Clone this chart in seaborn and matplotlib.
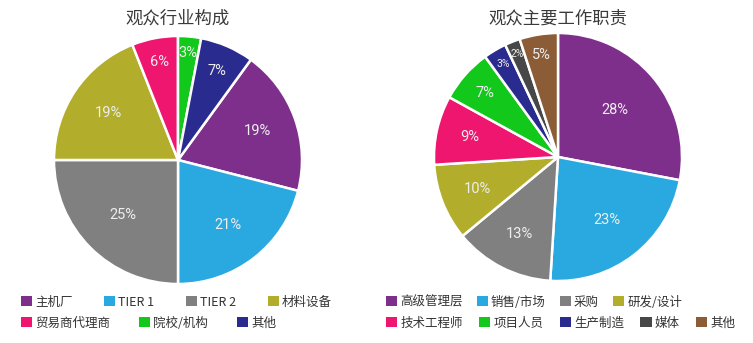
import numpy as np
import matplotlib
matplotlib.use("Agg")
import matplotlib.pyplot as plt
import seaborn as sns
from matplotlib.patches import Patch

sns.set_theme(style="white")
plt.rcParams['font.family'] = ['Noto Sans CJK SC', 'DejaVu Sans']

# ---- data -------------------------------------------------------------
industry_title = "观众行业构成"
industry_labels = ["主机厂", "TIER 1", "TIER 2", "材料设备", "贸易商代理商", "院校/机构", "其他"]
industry_values = [19, 21, 25, 19, 6, 3, 7]
industry_colors = ["#7E2F8B", "#2AA8E0", "#808080", "#B2AD2B", "#EE166E", "#12C81A", "#2A2B8F"]

role_title = "观众主要工作职责"
role_labels = ["高级管理层", "销售/市场", "采购", "研发/设计", "技术工程师",
               "项目人员", "生产制造", "媒体", "其他"]
role_values = [28, 23, 13, 10, 9, 7, 3, 2, 5]
role_colors = ["#7E2F8B", "#2AA8E0", "#808080", "#B2AD2B", "#EE166E",
               "#12C81A", "#2A2B8F", "#474747", "#8B5C35"]

W, H = 753, 343
fig = plt.figure(figsize=(W / 100, H / 100), dpi=100)
fig.patch.set_facecolor("white")


def draw_pie(cx, cy, r, values, colors, start, title, small_below):
    ax = fig.add_axes([(cx - r) / W, (H - cy - r) / H, 2 * r / W, 2 * r / H])
    wedges, _ = ax.pie(values, colors=colors, startangle=start, counterclock=False,
                       radius=1.0,
                       wedgeprops=dict(edgecolor="white", linewidth=1.8))
    total = float(sum(values))
    for w, v in zip(wedges, values):
        frac = v / total
        mid = np.deg2rad((w.theta1 + w.theta2) / 2)
        # narrow slices get their label pushed toward the rim
        d = np.interp(frac, [0.02, 0.05, 0.08, 0.10, 0.19, 0.28],
                      [0.89, 0.83, 0.76, 0.70, 0.68, 0.60])
        fs = 7.5 if frac < small_below else 10.5
        ax.text(d * np.cos(mid), d * np.sin(mid), f"{v}%", ha="center", va="center",
                color="#EEEEEE", fontsize=fs, family=["Roboto", "DejaVu Sans"],
                fontweight="normal")
    ax.set_xlim(-1, 1)
    ax.set_ylim(-1, 1)
    ax.set_aspect("equal")
    ax.axis("off")
    fig.text(cx / W, 1 - 19 / H, title, ha="center", va="center",
             fontsize=12.5, color="#3A3A3A")


def legend_row(x, y, labels, colors, spacing):
    handles = [Patch(facecolor=c, edgecolor="none") for c in colors]
    leg = fig.legend(handles, labels, loc="center left",
                     bbox_to_anchor=(x / W, 1 - y / H), ncol=len(labels),
                     frameon=False, fontsize=9, handlelength=0.9, handleheight=0.9,
                     handletextpad=0.25, columnspacing=spacing,
                     borderpad=0, borderaxespad=0)
    for t in leg.get_texts():
        t.set_color("#333333")
    return leg


draw_pie(178, 160, 124, industry_values, industry_colors, 54, industry_title, 0.0)
draw_pie(558, 157, 124, role_values, role_colors, 90, role_title, 0.035)

legend_row(21, 302, industry_labels[:4], industry_colors[:4], 2.5)
legend_row(21, 323, industry_labels[4:], industry_colors[4:], 2.3)
legend_row(386, 302, role_labels[:4], role_colors[:4], 1.1)
legend_row(386, 323, role_labels[4:], role_colors[4:], 1.3)

fig.savefig("out.png", dpi=100, facecolor="white")
